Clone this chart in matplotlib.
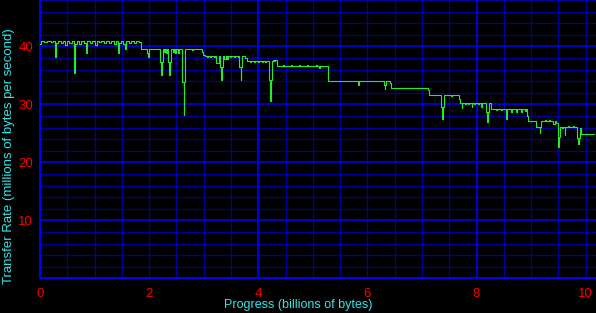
import numpy as np
import matplotlib
matplotlib.use("Agg")
import matplotlib.pyplot as plt
from matplotlib.ticker import MultipleLocator

# progress (billions of bytes) / transfer rate (millions of bytes per second)
progress = [
    0.00, 0.02, 0.08, 0.12, 0.20, 0.24, 0.27, 0.29, 0.33, 0.38, 0.42, 0.46, 0.50, 0.54, 0.58,
    0.62, 0.64, 0.67, 0.71, 0.75, 0.80, 0.85, 0.87, 0.92, 0.96, 1.00, 1.04, 1.08, 1.12, 1.17,
    1.21, 1.26, 1.30, 1.35, 1.39, 1.43, 1.45, 1.49, 1.53, 1.56, 1.58, 1.63, 1.67, 1.72, 1.76,
    1.82, 1.86, 1.96, 1.98, 1.99, 2.00,
    2.20, 2.22, 2.23, 2.25, 2.27, 2.29, 2.31, 2.33, 2.35, 2.37, 2.38, 2.40, 2.43, 2.45, 2.48,
    2.50, 2.53, 2.55, 2.61, 2.63, 2.64, 2.66, 2.79, 2.80, 2.96, 2.99, 3.02,
    3.06, 3.08, 3.12, 3.14, 3.18, 3.20, 3.23, 3.28, 3.30, 3.32, 3.33, 3.35, 3.38, 3.40, 3.42,
    3.44, 3.48, 3.50, 3.55, 3.57, 3.62, 3.64, 3.65, 3.68, 3.69, 3.70, 3.75, 3.79,
    3.85, 3.87, 3.92, 3.94, 3.99, 4.01, 4.06, 4.08, 4.13, 4.15, 4.20, 4.22, 4.23, 4.25, 4.27,
    4.29, 4.31, 4.34,
    4.45, 4.47, 4.60, 4.62, 4.75, 4.77, 4.90, 4.92, 5.05, 5.07, 5.12, 5.14, 5.20, 5.24, 5.28,
    5.82, 5.84, 6.31, 6.32, 6.33, 6.35, 6.41, 6.43,
    6.63, 6.65, 7.11, 7.13,
    7.35, 7.37, 7.38, 7.40, 7.54, 7.56, 7.67, 7.70, 7.73, 7.74,
    7.78, 7.80, 7.85, 7.87, 7.91, 7.92, 7.96, 7.98, 8.03, 8.05, 8.09, 8.10, 8.17, 8.20, 8.21,
    8.23, 8.26,
    8.35, 8.37, 8.45, 8.47, 8.54, 8.55, 8.63, 8.65, 8.73, 8.75, 8.82, 8.84, 8.88, 8.90, 8.93,
    8.95,
    9.09, 9.16, 9.17, 9.19, 9.25, 9.27, 9.33, 9.35, 9.41, 9.43, 9.46, 9.49, 9.50, 9.51, 9.53,
    9.56, 9.58, 9.62, 9.63, 9.68, 9.70, 9.76, 9.78, 9.85, 9.86, 9.87, 9.90, 9.92, 10.15,
]
rate = [
    40.4, 41.0, 40.8, 41.0, 40.7, 41.0, 38.2, 40.5, 41.0, 40.6, 41.0, 40.3, 41.0, 40.5, 41.0,
    35.4, 40.4, 40.9, 40.4, 41.0, 40.6, 38.8, 41.0, 40.5, 41.0, 40.3, 41.0, 40.7, 41.0, 40.5,
    41.0, 40.6, 41.0, 40.4, 41.0, 38.8, 40.5, 41.0, 40.4, 39.5, 41.0, 40.6, 41.0, 40.5, 41.0,
    40.8, 39.5, 38.8, 38.1, 38.8, 39.5,
    37.35, 35.05, 37.35, 39.5, 39.0, 39.5, 38.8, 39.5, 37.35, 35.05, 37.35, 39.5, 39.0, 39.5, 38.8,
    39.5, 38.8, 39.5, 33.9, 28.2, 33.9, 39.5, 39.3, 39.5, 39.0, 38.6, 38.4,
    38.2, 38.4, 38.2, 38.4, 38.2, 38.4, 37.2, 38.4, 36.4, 34.2, 36.4, 38.4, 37.8, 38.4, 37.8,
    38.4, 38.2, 38.4, 38.2, 38.4, 38.2, 38.4, 36.4, 34.2, 36.4, 38.4, 38.0, 37.5,
    37.3, 37.5, 37.3, 37.5, 37.3, 37.5, 37.3, 37.5, 37.3, 37.5, 34.2, 30.6, 34.2, 37.5, 37.7,
    37.5, 37.7, 36.55,
    36.75, 36.55, 36.75, 36.55, 36.75, 36.55, 36.75, 36.55, 36.75, 36.55, 36.2, 36.55, 36.7, 36.55, 34.07,
    33.3, 34.07, 33.4, 32.6, 33.4, 34.07, 33.6, 32.9,
    32.75, 32.9, 32.4, 31.7,
    29.6, 27.4, 29.6, 31.7, 31.4, 31.7, 31.0, 30.3, 29.4, 30.3,
    30.0, 30.3, 30.0, 30.3, 29.6, 30.3, 30.0, 30.3, 30.0, 30.3, 29.6, 30.3, 28.6, 26.9, 28.6,
    30.3, 29.2,
    29.0, 29.2, 29.0, 29.2, 27.4, 29.2, 28.6, 29.2, 28.6, 29.2, 28.7, 29.2, 28.9, 29.2, 28.0,
    27.07,
    26.1, 25.0, 26.1, 27.07, 27.3, 27.07, 27.3, 27.07, 26.6, 27.07, 26.8, 24.4, 22.6, 24.4, 26.1,
    25.9, 26.1, 24.7, 26.1, 26.3, 26.1, 26.3, 26.1, 24.2, 23.2, 24.2, 25.9, 24.9, 24.9,
]

x_ticks = [0, 2, 4, 6, 8, 10]
y_ticks = [10, 20, 30, 40]

plt.rcParams['font.family'] = ['Liberation Sans', 'DejaVu Sans']

fig = plt.figure(figsize=(5.96, 3.13), dpi=100, facecolor='black')
ax = fig.add_axes([40 / 596, (313 - 278.3) / 313, 1 - 40 / 596, 278.3 / 313])
ax.set_facecolor('black')

ax.set_xlim(0, 10.19)
ax.set_ylim(0, 48)

ax.xaxis.set_major_locator(MultipleLocator(2))
ax.xaxis.set_minor_locator(MultipleLocator(0.5))
ax.yaxis.set_major_locator(MultipleLocator(10))
ax.yaxis.set_minor_locator(MultipleLocator(2))

# grid: dark blue minor, bright blue major
ax.grid(which='minor', color='#0000a0', linewidth=0.9)
ax.grid(which='major', axis='x', color='#0000a0', linewidth=0.9)
ax.grid(which='major', axis='y', color='#0000ff', linewidth=1.1)
for v in np.arange(4, 10.19, 4):
    ax.axvline(v, color='#0000ff', linewidth=1.1, zorder=1.5)
ax.set_axisbelow(True)

for s in ['top', 'right']:
    ax.spines[s].set_visible(False)
for s in ['left', 'bottom']:
    ax.spines[s].set_color('#0000ff')
    ax.spines[s].set_linewidth(1.4)

ax.plot(progress, rate, color='#22ee22', linewidth=0.8, drawstyle='steps-post', zorder=3)

ax.set_xticks(x_ticks)
ax.set_xticklabels([str(t) for t in x_ticks])
ax.set_yticks(y_ticks)
ax.set_yticklabels([str(t) for t in y_ticks])
ax.tick_params(which='both', length=0)
ax.tick_params(axis='x', colors='#ff0000', labelsize=9.5, pad=7)
ax.tick_params(axis='y', colors='#ff0000', labelsize=9.5, pad=5)

fig.text(0.5, 1 - 305 / 313, 'Progress (billions of bytes)', color='#33e6e6',
         fontsize=9, ha='center', va='center')
fig.text(9 / 596, 0.5, 'Transfer Rate (millions of bytes per second)', color='#33e6e6',
         fontsize=9.5, ha='center', va='center', rotation=90)

fig.savefig('out.png', dpi=100, facecolor='black')
